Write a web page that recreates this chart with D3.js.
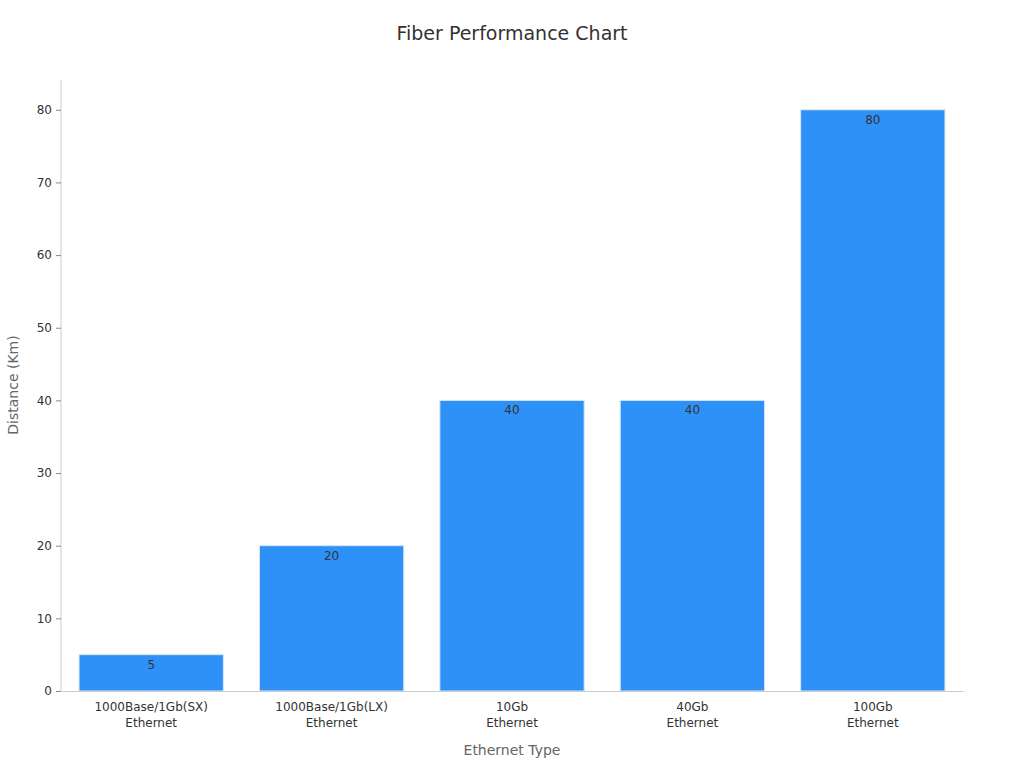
<!DOCTYPE html>
<html><head><meta charset="utf-8">
<script src="https://cdn.jsdelivr.net/npm/d3@7"></script>
<style>body{margin:0;background:#fff;font-family:"DejaVu Sans",sans-serif;}</style>
</head><body><svg id="c" width="1024" height="768"></svg>
<script>
const categories = [["1000Base/1Gb(SX)","Ethernet"],["1000Base/1Gb(LX)","Ethernet"],["10Gb","Ethernet"],["40Gb","Ethernet"],["100Gb","Ethernet"]];
const values = [5,20,40,40,80];
const yTicks = [0,10,20,30,40,50,60,70,80];

const svg = d3.select("#c");
const m = {l:61,r:963,t:80,b:691};
const x = d3.scaleBand().domain(categories.map((d,i)=>i)).range([m.l,m.r]).paddingInner(0.2).paddingOuter(0.1);
const y = d3.scaleLinear().domain([0,84.1]).range([m.b,m.t]);

svg.append("text").attr("x",512).attr("y",40).attr("text-anchor","middle").attr("font-size",19).attr("fill","#333").text("Fiber Performance Chart");

svg.selectAll("rect.bar").data(values).enter().append("rect")
 .attr("x",(d,i)=>x(i)).attr("width",x.bandwidth()).attr("y",d=>y(d)).attr("height",d=>y(0)-y(d))
 .attr("fill","#2e91f7").attr("stroke","#d8e6f5").attr("stroke-width",1);
svg.selectAll("text.v").data(values).enter().append("text")
 .attr("x",(d,i)=>x(i)+x.bandwidth()/2).attr("y",d=>y(d)+14).attr("text-anchor","middle")
 .attr("font-size",12).attr("fill","#333").text(d=>d);

const ya = svg.append("g").attr("transform",`translate(${m.l},0)`).call(d3.axisLeft(y).tickValues(yTicks).tickSize(5).tickPadding(4));
ya.select(".domain").attr("stroke","#ccc").attr("d",`M0,${m.b}V${m.t}`);
ya.selectAll(".tick line").attr("stroke","#888");
ya.selectAll("text").attr("font-size",12).attr("fill","#333").attr("font-family","DejaVu Sans");

const xa = svg.append("g").attr("transform",`translate(0,${m.b})`).call(d3.axisBottom(x).tickSize(0).tickFormat(""));
xa.select(".domain").attr("stroke","#ccc");
xa.selectAll(".tick").each(function(d){
  const t=d3.select(this).append("text").attr("fill","#333").attr("font-size",12).attr("text-anchor","middle").attr("font-family","DejaVu Sans");
  categories[d].forEach((s,k)=>t.append("tspan").attr("x",0).attr("y",20+k*16).text(s));
});

svg.append("text").attr("x",512).attr("y",755).attr("text-anchor","middle").attr("font-size",14).attr("fill","#666").text("Ethernet Type");
svg.append("text").attr("transform","translate(18,385) rotate(-90)").attr("text-anchor","middle").attr("font-size",14).attr("fill","#666").text("Distance (Km)");
</script></body></html>
